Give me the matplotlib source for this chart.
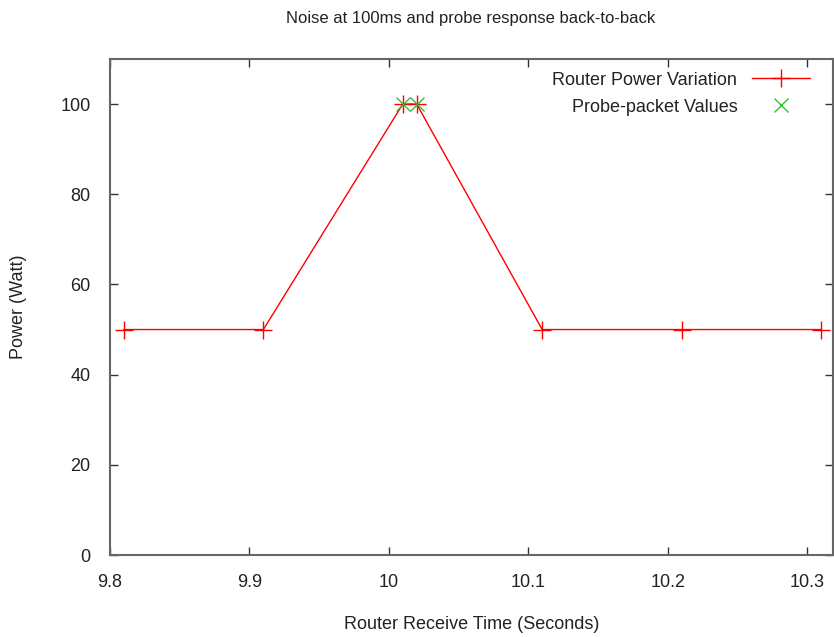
import matplotlib.pyplot as plt

plt.rcParams['font.family'] = ['Liberation Sans', 'DejaVu Sans']

# router power samples
recv_time = [9.81, 9.91, 10.01, 10.02, 10.11, 10.21, 10.31]
power = [50, 50, 100, 100, 50, 50, 50]

# probe packets
probe_time = [10.01, 10.02]
probe_power = [100, 100]

fig = plt.figure(figsize=(8.34, 6.37), dpi=100)
ax = fig.add_axes([110 / 834, 82 / 637, 723 / 834, 496 / 637])

ax.plot(recv_time, power, color='red', lw=1, marker='+', ms=13, mew=1,
        label='Router Power Variation')
ax.plot(probe_time, probe_power, ls='none', color='#22bb22', marker='x', ms=10, mew=0.9,
        label='Probe-packet Values')

ax.set_xlim(9.8, 10.3186)
ax.set_ylim(0, 110)
ax.set_xticks([9.8, 9.9, 10.0, 10.1, 10.2, 10.3])
ax.set_xticklabels(['9.8', '9.9', '10', '10.1', '10.2', '10.3'])
ax.set_yticks([0, 20, 40, 60, 80, 100])

ax.tick_params(direction='in', length=6, width=1, top=True, right=True,
               labelsize=13, color='#333333', labelcolor='#222222')
ax.tick_params(axis='x', pad=14)
ax.tick_params(axis='y', pad=14)
for s in ax.spines.values():
    s.set_color('#666666')
    s.set_linewidth(1.5)

fig.text(471 / 834, 1 - 18 / 637, 'Noise at 100ms and probe response back-to-back',
         fontsize=12, ha='center', va='center', color='#222222')
ax.set_xlabel('Router Receive Time (Seconds)', fontsize=13, labelpad=18, color='#222222')
ax.set_ylabel('Power (Watt)', fontsize=13, labelpad=24, color='#222222')

ax.legend(loc='upper right', frameon=False, markerfirst=False, fontsize=13,
          handlelength=3.2, borderaxespad=0.3, labelspacing=0.55,
          bbox_to_anchor=(0.985, 1.0), labelcolor='#222222')

fig.savefig('out.png', dpi=100)
